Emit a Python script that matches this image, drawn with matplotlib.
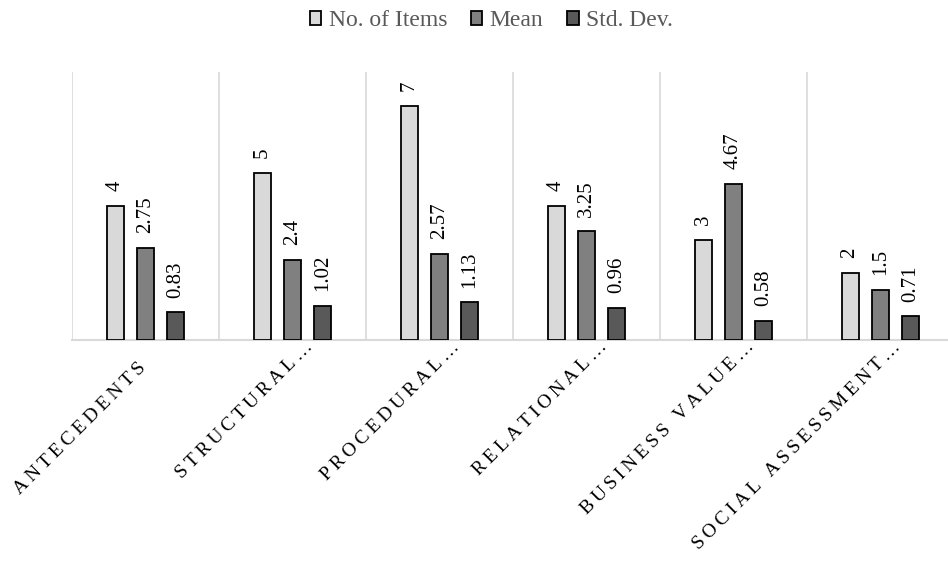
import matplotlib
matplotlib.use('Agg')
import matplotlib.pyplot as plt
import numpy as np
from matplotlib.patches import Patch
from matplotlib.transforms import ScaledTranslation

plt.rcParams['font.family'] = ['Liberation Serif', 'DejaVu Serif']

categories = ['ANTECEDENTS', 'STRUCTURAL…', 'PROCEDURAL…', 'RELATIONAL…',
              'BUSINESS VALUE…', 'SOCIAL ASSESSMENT…']
series_names = ['No. of Items', 'Mean', 'Std. Dev.']
n_items = [4, 5, 7, 4, 3, 2]
means = [2.75, 2.4, 2.57, 3.25, 4.67, 1.5]
std_devs = [0.83, 1.02, 1.13, 0.96, 0.58, 0.71]

COLORS = ['#D9D9D9', '#808080', '#595959']
GRID = '#D9D9D9'
TEXT = '#595959'


def spaced(label):
    # Excel-style wide letter spacing on the category axis
    s = '\u2009'.join(label)
    if not label.endswith('…'):
        s += '\u2003\u2002'  # untruncated labels sit a little further left in Excel
    return s


fig = plt.figure(figsize=(9.48, 5.61), dpi=100)
ax = fig.add_axes([72 / 948, 1 - 340 / 561, 882 / 948, 268 / 561])

x = np.arange(len(categories))
width = 0.115
step = 0.207
for i, (vals, name) in enumerate(zip([n_items, means, std_devs], series_names)):
    pos = x + (i - 1) * step
    bars = ax.bar(pos, vals, width, color=COLORS[i], edgecolor='black',
                  linewidth=1.3, label=name, zorder=3)
    for b, v in zip(bars, vals):
        ax.annotate('{:g}'.format(v), (b.get_x() + b.get_width() / 2, v),
                    xytext=(0, 10.5), textcoords='offset points', rotation=90,
                    ha='center', va='bottom', fontsize=15, color='black')

ax.set_xlim(-0.5, len(categories) - 0.5)
ax.set_ylim(0, 8)

# category dividers
for b in np.arange(-0.5, len(categories), 1.0):
    ax.axvline(b, color=GRID, linewidth=1.2, zorder=1)

for s in ['top', 'right', 'left']:
    ax.spines[s].set_visible(False)
ax.spines['bottom'].set_color(GRID)
ax.spines['bottom'].set_linewidth(1.5)
ax.set_yticks([])

ax.set_xticks(x)
ax.set_xticklabels([spaced(c) for c in categories], rotation=45, ha='right',
                   rotation_mode='anchor', fontsize=14, color='black')
ax.tick_params(axis='x', length=0, pad=1)
shift = ScaledTranslation(0.12, 0.03, fig.dpi_scale_trans)
for lbl in ax.get_xticklabels():
    lbl.set_transform(lbl.get_transform() + shift)

handles = [Patch(facecolor=c, edgecolor='black', linewidth=1.3, label=n)
           for c, n in zip(COLORS, series_names)]
fig.legend(handles=handles, loc='center', bbox_to_anchor=(0.518, 1 - 21 / 561),
           ncol=3, frameon=False, fontsize=17, labelcolor=TEXT,
           handlelength=0.5, handleheight=0.5, handletextpad=0.3,
           columnspacing=1.0)

fig.savefig('out.png', dpi=100)
